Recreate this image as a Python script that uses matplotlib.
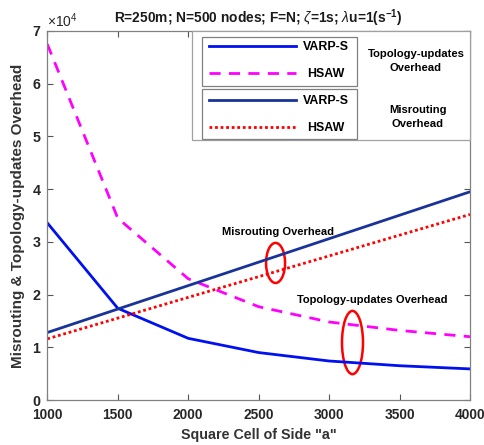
import matplotlib
matplotlib.use("Agg")
import matplotlib.pyplot as plt
from matplotlib.lines import Line2D
from matplotlib.patches import Rectangle, Ellipse

plt.rcParams['font.family'] = ['Liberation Sans', 'DejaVu Sans']
plt.rcParams['mathtext.fontset'] = 'custom'
plt.rcParams['mathtext.rm'] = 'Liberation Sans'
plt.rcParams['mathtext.it'] = 'Liberation Sans:italic'
plt.rcParams['mathtext.bf'] = 'Liberation Sans:bold'

side = [1000, 1500, 2000, 2500, 3000, 3500, 4000]
topo_varps = [33600, 17400, 11700, 9000, 7400, 6500, 5900]
topo_hsaw = [67500, 34500, 23000, 17700, 14800, 13200, 12000]
mis_varps = [12800, 17250, 21700, 26150, 30600, 35050, 39500]
mis_hsaw = [11600, 15530, 19470, 23400, 27330, 31270, 35200]
xticks = [1000, 1500, 2000, 2500, 3000, 3500, 4000]
yticks = [0, 10000, 20000, 30000, 40000, 50000, 60000, 70000]

W, H = 484, 445
fig = plt.figure(figsize=(W / 100, H / 100), dpi=100)
L, R, B, T = 47.3, 470, 400, 31
ax = fig.add_axes([L / W, (H - B) / H, (R - L) / W, (B - T) / H])

c_blue = '#0010f0'
c_navy = '#1a3399'
c_mag = '#ff00ff'
c_red = '#ff0000'

ax.plot(side, topo_varps, color=c_blue, lw=2.0)
ax.plot(side, topo_hsaw, color=c_mag, lw=2.0, linestyle=(0, (4, 3)))
ax.plot(side, mis_varps, color=c_navy, lw=2.0)
ax.plot(side, mis_hsaw, color=c_red, lw=2.0, linestyle=(0, (1, 1)))

ax.set_xlim(1000, 4000)
ax.set_ylim(0, 70000)
ax.set_xticks(xticks)
ax.set_yticks(yticks)
ax.ticklabel_format(axis='y', style='sci', scilimits=(0, 0), useMathText=True)
ax.yaxis.get_offset_text().set_fontsize(10)
ax.yaxis.get_offset_text().set_color('#404040')
ax.tick_params(direction='in', top=True, right=True, length=4, width=0.8,
               color='#555555', labelsize=10.3, labelcolor='#262626')
ax.tick_params(axis='x', pad=6, labelsize=9.9)
ax.tick_params(axis='y', pad=4)
for lab in ax.get_xticklabels() + ax.get_yticklabels():
    lab.set_fontweight('bold')
for s in ax.spines.values():
    s.set_color('#808080')
    s.set_linewidth(0.9)

ax.set_title(r'R=250m; N=500 nodes; F=N; $\zeta$=1s; $\lambda$u=1(s$^{\mathbf{-1}}$)',
             fontsize=9.9, fontweight='bold', color='#1a1a1a', pad=6)
ax.set_xlabel('Square Cell of Side "a"', fontsize=10.3, fontweight='bold', color='#333333', labelpad=4)
ax.set_ylabel('Misrouting & Topology-updates Overhead', fontsize=11, fontweight='bold',
              color='#333333', labelpad=5)

# annotations
ax.text(2637, 31900, 'Misrouting Overhead', fontsize=8, fontweight='bold', ha='center', va='center')
ax.text(3304, 19000, 'Topology-updates Overhead', fontsize=8, fontweight='bold', ha='center', va='center')
ax.add_patch(Ellipse((2620, 26000), 135, 7600, fill=False, ec='red', lw=1.8))
ax.add_patch(Ellipse((3166, 10900), 149, 12000, fill=False, ec='red', lw=1.8))

# custom legend in pixel coordinates
def fx(px):
    return px / W

def fy(py):
    return (H - py) / H

def rect(x0, y0, x1, y1, ec):
    fig.patches.append(Rectangle((fx(x0), fy(y1)), fx(x1) - fx(x0), fy(y0) - fy(y1),
                                 transform=fig.transFigure, fill=True, fc='white',
                                 ec=ec, lw=0.9, zorder=5))

rect(191.7, 31.5, 470, 140, '#a0a0a0')
rect(201.7, 37.3, 357.3, 86, '#808080')
rect(201.7, 89.3, 357.3, 139.3, '#808080')

entries = [
    (45.7, c_blue, '-', 'VARP-S'),
    (72.7, c_mag, (0, (4, 3)), 'HSAW'),
    (100, c_navy, '-', 'VARP-S'),
    (126.7, c_red, (0, (1, 1)), 'HSAW'),
]
for py, col, ls, lab in entries:
    fig.lines.append(Line2D([fx(209), fx(295.7)], [fy(py), fy(py)], color=col, lw=2.0,
                            linestyle=ls, transform=fig.transFigure, zorder=6))
    fig.text(fx(326), fy(py + 1), lab, fontsize=8.9, fontweight='bold', ha='center', va='center', zorder=7)

fig.text(fx(416), fy(61), 'Topology-updates\nOverhead', fontsize=8.1, fontweight='bold',
         ha='center', va='center', linespacing=1.6, zorder=7)
fig.text(fx(418), fy(117), 'Misrouting\nOverhead', fontsize=8.1, fontweight='bold',
         ha='center', va='center', linespacing=1.6, zorder=7)

fig.savefig('out.png', dpi=100)
